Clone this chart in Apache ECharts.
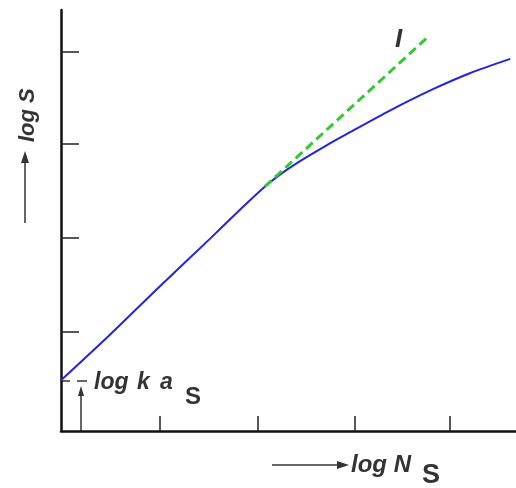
<!DOCTYPE html>
<html>
<head>
<meta charset="utf-8">
<script src="https://cdn.jsdelivr.net/npm/echarts@6/dist/echarts.min.js"></script>
<style>
  html, body { margin: 0; padding: 0; background: #fff; }
  #chart { width: 516px; height: 488px; }
</style>
</head>
<body>
<div id="chart"></div>
<script>
'use strict';
// curve (x = log Ns, y = log S, arbitrary units)
var curveX = [0, 0.51, 1.02, 1.54, 1.85, 2.10, 2.30, 2.46, 2.72, 2.98, 3.39, 3.84, 4.22, 4.63];
var curveY = [0.54, 1.03, 1.54, 2.05, 2.36, 2.60, 2.76, 2.87, 3.03, 3.18, 3.41, 3.64, 3.81, 3.96];
// tangent I
var tangentX = [2.10, 3.80];
var tangentY = [2.60, 4.21];
var xTicks = [1.02, 2.03, 3.03, 4.01];
var yTicks = [1.06, 2.06, 3.06, 4.04];

var chart = echarts.init(document.getElementById('chart'));
var font = '"Liberation Sans", Arial, sans-serif';
var ink = '#333';

function pairs(xs, ys) {
  var out = [];
  for (var i = 0; i < xs.length; i++) {
    out.push([xs[i], ys[i]]);
  }
  return out;
}

function label(text, x, y, size, italic, rot) {
  return {
    type: 'text', x: x, y: y, rotation: rot || 0,
    style: {
      text: text, fill: ink, align: 'left', verticalAlign: 'middle',
      font: (italic ? 'italic ' : '') + 'bold ' + size + 'px ' + font
    }
  };
}

function seg(x1, y1, x2, y2, w) {
  return {
    type: 'line',
    shape: {x1: x1, y1: y1, x2: x2, y2: y2},
    style: {stroke: ink, lineWidth: w || 1.5}
  };
}

function head(points) {
  return {type: 'polygon', shape: {points: points}, style: {fill: ink}};
}

chart.setOption({
  animation: false,
  grid: {left: 61, right: 0, top: 10, bottom: 57},
  xAxis: {
    type: 'value', min: 0, max: 4.69,
    axisLine: {lineStyle: {color: '#111', width: 2.5}},
    axisTick: {show: true, inside: true, length: 15, customValues: xTicks, lineStyle: {color: '#222', width: 1.5}},
    axisLabel: {show: false},
    splitLine: {show: false}
  },
  yAxis: {
    type: 'value', min: 0, max: 4.48,
    axisLine: {show: true, lineStyle: {color: '#111', width: 2.5}},
    axisTick: {show: true, inside: true, length: 18, customValues: yTicks, lineStyle: {color: '#222', width: 1.5}},
    axisLabel: {show: false},
    splitLine: {show: false}
  },
  series: [
    {
      type: 'line', data: pairs(curveX, curveY), smooth: 0.25,
      showSymbol: false, lineStyle: {color: '#2323e0', width: 2}
    },
    {
      type: 'line', data: pairs(tangentX, tangentY),
      showSymbol: false, lineStyle: {color: '#35c835', width: 3, type: [9, 5]}
    }
  ],
  graphic: [
    label('log S', 28, 142, 22, true, Math.PI / 2),
    seg(25, 223, 25, 160),
    head([[25, 151], [21, 163], [29, 163]]),
    label('I', 395, 40, 26, true),
    seg(62, 381, 70, 381),
    seg(77, 381, 87, 381),
    seg(81, 431, 81, 394),
    head([[81, 386], [78, 396], [84, 396]]),
    label('log', 94, 383, 23, true),
    label('k', 137, 383, 23, true),
    label('a', 160, 383, 23, true),
    label('S', 185, 397, 24, false),
    seg(272, 465, 340, 465),
    head([[349, 465], [337, 461], [337, 469]]),
    label('log N', 351, 465, 24, true),
    label('S', 422, 476, 27, false)
  ]
});
</script>
</body>
</html>
